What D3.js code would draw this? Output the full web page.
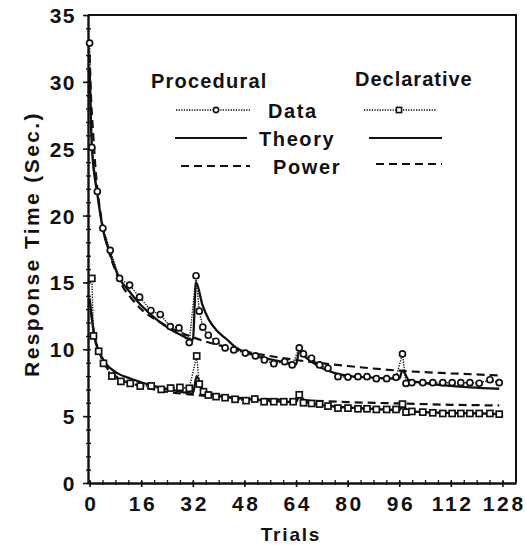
<!DOCTYPE html>
<html>
<head>
<meta charset="utf-8">
<script src="https://cdn.jsdelivr.net/npm/d3@7.9.0/dist/d3.min.js"></script>
<style>
  html, body { margin: 0; padding: 0; background: #fff; }
  svg { display: block; font-family: "Liberation Sans", Arial, sans-serif; font-weight: bold; }
</style>
</head>
<body>
<svg id="chart" width="526" height="545"></svg>
<script>
// ============= DATA ==================

const xTicks = [0, 16, 32, 48, 64, 80, 96, 112, 128];
const yTicks = [0, 5, 10, 15, 20, 25, 30, 35];

// Procedural data (circles)
const procTrials = [
  0, 0.7, 2.4, 4.1, 6.4, 9.3, 12.4, 15.5, 19.0, 21.9, 25.0, 27.7, 30.9,
  33.0, 34.0, 35.1, 36.8, 39.2, 42.0, 44.7, 48.3, 51.4, 54.2, 57.1, 60.5, 62.8,
  65.0, 66.3, 68.8, 71.3, 73.9, 77.0, 80.1, 83.2, 86.0, 88.9, 92.1, 95.0,
  97.0, 98.1, 99.9, 103.3, 106.4, 109.5, 112.4, 115.1, 117.9, 120.8, 124.1, 127.0
];
const procValues = [
  32.9, 25.1, 21.8, 19.05, 17.4, 15.3, 14.8, 13.9, 12.9, 12.6, 11.7, 11.6, 10.5,
  15.5, 12.85, 11.65, 11.05, 10.6, 10.1, 9.95, 9.72, 9.5, 9.2, 8.92, 9.07, 8.83,
  10.1, 9.65, 9.33, 8.83, 8.58, 7.95, 7.92, 7.95, 7.95, 7.8, 7.8, 7.9,
  9.65, 7.45, 7.5, 7.5, 7.5, 7.5, 7.5, 7.5, 7.5, 7.46, 7.72, 7.5
];

// Declarative data (squares)
const declTrials = [
  0.7, 1.2, 2.8, 4.3, 6.9, 9.7, 12.6, 15.7, 19.1, 22.2, 25.1, 28.0, 30.9,
  33.2, 34.0, 35.3, 36.8, 39.2, 42.0, 45.1, 48.5, 51.2, 54.1, 57.1, 60.2, 63.1,
  65.0, 66.3, 68.8, 71.3, 73.9, 77.0, 80.1, 83.2, 86.0, 88.9, 92.1, 95.0,
  97.0, 98.1, 99.9, 103.3, 106.4, 109.5, 112.4, 115.1, 117.9, 120.8, 124.1, 127.0
];
const declValues = [
  15.3, 11.0, 9.85, 8.95, 8.0, 7.6, 7.45, 7.25, 7.26, 7.0, 7.1, 7.15, 7.08,
  9.5, 7.4, 6.83, 6.58, 6.46, 6.38, 6.26, 6.16, 6.28, 6.08, 6.08, 6.08, 6.08,
  6.6, 6.0, 5.95, 5.9, 5.75, 5.6, 5.6, 5.55, 5.55, 5.5, 5.5, 5.5,
  5.9, 5.3, 5.35, 5.3, 5.25, 5.2, 5.2, 5.2, 5.2, 5.2, 5.2, 5.15
];

// Theory curves (solid)
const procTheoryTrials = [0, 0.7, 2.4, 4.1, 6.4, 9.3, 12.4, 15.5, 19, 22, 25, 28, 32, 33, 35, 37, 39.4, 42.5, 45.6, 48.7, 52, 56, 60, 64, 65, 67, 69, 72, 75, 78, 82, 86, 90, 96, 97, 99, 103, 110, 118, 127];
const procTheoryValues = [31, 25.1, 21.6, 19.0, 17.1, 15.3, 14.3, 13.4, 12.6, 12.0, 11.5, 11.1, 10.7, 15.0, 13.3, 12.2, 11.4, 10.75, 10.1, 9.75, 9.5, 9.25, 9.05, 8.85, 9.9, 9.4, 9.05, 8.6, 8.3, 8.1, 7.95, 7.9, 7.85, 7.8, 8.4, 7.7, 7.5, 7.3, 7.15, 7.05];

const declTheoryTrials = [0, 1.5, 3, 5, 8.7, 12.8, 20, 26, 32, 33.2, 35, 37, 40, 44, 48, 56, 64, 65, 67, 70, 75, 80, 88, 96, 97, 99, 104, 112, 120, 127];
const declTheoryValues = [13.8, 10.9, 9.8, 8.95, 8.2, 7.8, 7.25, 6.95, 6.7, 8.0, 7.0, 6.75, 6.55, 6.4, 6.3, 6.15, 6.05, 6.5, 6.1, 5.9, 5.75, 5.65, 5.55, 5.45, 5.7, 5.4, 5.3, 5.25, 5.2, 5.15];

// Power curves (dashed)
const procPowerTrials = [0, 0.5, 1, 2, 3, 4, 6, 8, 10, 13, 16, 22, 32, 40, 48, 64, 80, 96, 112, 127];
const procPowerValues = [32, 28.5, 26.5, 23, 20.8, 19.3, 17.3, 15.9, 14.8, 13.8, 13.0, 12.0, 10.9, 10.3, 9.85, 9.2, 8.75, 8.4, 8.2, 8.05];

const declPowerTrials = [0, 1, 2, 3, 5, 7, 10, 15, 20, 32, 48, 64, 80, 96, 112, 127];
const declPowerValues = [13.7, 11.8, 10.5, 9.8, 8.75, 8.2, 7.7, 7.3, 7.0, 6.6, 6.35, 6.2, 6.05, 5.95, 5.85, 5.8];

const legendHeads = ["Procedural", "Declarative"];
const legendRows = ["Data", "Theory", "Power"];

// ============= SETUP ==================

const svg = d3.select("#chart");
const ink = "#111";

const x = d3.scaleLinear().domain([-0.5, 132.2]).range([88, 516]);
const y = d3.scaleLinear().domain([0, 35]).range([483, 15]);

const pts = (ts, vs) => ts.map((t, i) => [t, vs[i]]);
const line = d3.line().x(d => x(d[0])).y(d => y(d[1])).curve(d3.curveMonotoneX);
const lineLin = d3.line().x(d => x(d[0])).y(d => y(d[1]));

// frame (top + right)
svg.append("path")
  .attr("d", `M${x.range()[0]},${y(35)}H${x.range()[1]}V${y(0)}`)
  .attr("fill", "none").attr("stroke", ink).attr("stroke-width", 2);

// minor ticks
svg.append("g")
  .attr("transform", `translate(${x.range()[0]},0)`)
  .call(d3.axisLeft(y).tickValues(d3.range(0, 36, 1)).tickSize(3).tickFormat(""))
  .call(g => g.select(".domain").remove())
  .selectAll("line").attr("x2", 3).attr("x1", -2).attr("stroke", ink).attr("stroke-width", 1.3);

svg.append("g")
  .attr("transform", `translate(0,${y(0)})`)
  .call(d3.axisBottom(x).tickValues(d3.range(0, 129, 4)).tickSize(3).tickFormat(""))
  .call(g => g.select(".domain").remove())
  .selectAll("line").attr("y1", -3).attr("y2", 2).attr("stroke", ink).attr("stroke-width", 1.3);

// major axes
const yAxis = svg.append("g")
  .attr("transform", `translate(${x.range()[0]},0)`)
  .call(d3.axisLeft(y).tickValues(yTicks).tickSize(5).tickSizeOuter(0).tickPadding(7));
const xAxis = svg.append("g")
  .attr("transform", `translate(0,${y(0)})`)
  .call(d3.axisBottom(x).tickValues(xTicks).tickSize(4).tickSizeOuter(0).tickPadding(9));

[yAxis, xAxis].forEach(a => {
  a.select(".domain").attr("stroke", ink).attr("stroke-width", 2.4);
  a.selectAll(".tick line").attr("stroke", ink).attr("stroke-width", 1.6);
  a.selectAll("text")
    .attr("fill", ink)
    .style("font-family", '"Liberation Sans", Arial, sans-serif')
    .style("font-weight", "bold")
    .style("font-size", "21px");
});
yAxis.selectAll("text").style("letter-spacing", "1.5px").attr("dy", "0.36em");
xAxis.selectAll("text").style("letter-spacing", "2.6px").attr("dx", "1.3px");
xAxis.selectAll(".tick line").attr("y1", -2);

// axis titles
svg.append("text")
  .attr("x", 291).attr("y", 541)
  .attr("text-anchor", "middle")
  .attr("fill", ink)
  .style("font-size", "19px").style("letter-spacing", "1.8px")
  .text("Trials");

svg.append("text")
  .attr("transform", "translate(39,244) rotate(-90)")
  .attr("text-anchor", "middle")
  .attr("fill", ink)
  .style("font-size", "21px").style("letter-spacing", "2.4px")
  .text("Response Time (Sec.)");

// ============= CURVES ==================

const plot = svg.append("g");

function drawSolid(ts, vs) {
  plot.append("path").datum(pts(ts, vs))
    .attr("d", line).attr("fill", "none")
    .attr("stroke", ink).attr("stroke-width", 2.3).attr("stroke-linejoin", "round");
}
function drawDashed(ts, vs) {
  plot.append("path").datum(pts(ts, vs))
    .attr("d", line).attr("fill", "none")
    .attr("stroke", ink).attr("stroke-width", 2.2).attr("stroke-dasharray", "8,5");
}
function drawData(ts, vs, shape) {
  const d = pts(ts, vs);
  plot.append("path").datum(d)
    .attr("d", lineLin).attr("fill", "none")
    .attr("stroke", ink).attr("stroke-width", 1.4).attr("stroke-dasharray", "1.3,1.3");
  const g = plot.append("g");
  if (shape === "circle") {
    g.selectAll("circle").data(d).join("circle")
      .attr("cx", p => x(p[0])).attr("cy", p => y(p[1])).attr("r", 3)
      .attr("fill", "#fff").attr("stroke", ink).attr("stroke-width", 1.7);
  } else {
    g.selectAll("rect").data(d).join("rect")
      .attr("x", p => x(p[0]) - 3).attr("y", p => y(p[1]) - 3)
      .attr("width", 6).attr("height", 6)
      .attr("fill", "#fff").attr("stroke", ink).attr("stroke-width", 1.7);
  }
}

drawDashed(procPowerTrials, procPowerValues);
drawDashed(declPowerTrials, declPowerValues);
drawSolid(procTheoryTrials, procTheoryValues);
drawSolid(declTheoryTrials, declTheoryValues);
drawData(procTrials, procValues, "circle");
drawData(declTrials, declValues, "square");

// ============= LEGEND ==================

const leg = svg.append("g");
leg.append("text").attr("x", 151).attr("y", 88).attr("fill", ink)
  .style("font-size", "20px").style("letter-spacing", "1.2px").text(legendHeads[0]);
leg.append("text").attr("x", 355).attr("y", 86).attr("fill", ink)
  .style("font-size", "20px").style("letter-spacing", "1px").text(legendHeads[1]);

const rowY = [110, 138, 166];
const rowX = [268, 259, 273];
legendRows.forEach((r, i) => {
  leg.append("text").attr("x", rowX[i]).attr("y", rowY[i] + 8).attr("fill", ink)
    .style("font-size", "20px").style("letter-spacing", "1.6px").text(r);
});

// sample lines
const segs = [
  { x1: 176, x2: 250, y: 110, kind: "data", shape: "circle", mx: 216 },
  { x1: 175, x2: 247, y: 138, kind: "theory" },
  { x1: 181, x2: 250, y: 166, kind: "power" },
  { x1: 364, x2: 436, y: 110, kind: "data", shape: "square", mx: 399 },
  { x1: 369, x2: 442, y: 138, kind: "theory" },
  { x1: 376, x2: 442, y: 164, kind: "power" }
];
segs.forEach(s => {
  const l = leg.append("line")
    .attr("x1", s.x1).attr("x2", s.x2).attr("y1", s.y).attr("y2", s.y)
    .attr("stroke", ink);
  if (s.kind === "data") l.attr("stroke-width", 1.3).attr("stroke-dasharray", "1.3,1.3");
  if (s.kind === "theory") l.attr("stroke-width", 2.2);
  if (s.kind === "power") l.attr("stroke-width", 2.2).attr("stroke-dasharray", "8,5");
  if (s.shape === "circle") {
    leg.append("circle").attr("cx", s.mx).attr("cy", s.y).attr("r", 2.6)
      .attr("fill", "#fff").attr("stroke", ink).attr("stroke-width", 1.6);
  } else if (s.shape === "square") {
    leg.append("rect").attr("x", s.mx - 2.6).attr("y", s.y - 2.6).attr("width", 5.2).attr("height", 5.2)
      .attr("fill", "#fff").attr("stroke", ink).attr("stroke-width", 1.6);
  }
});
</script>
</body>
</html>
